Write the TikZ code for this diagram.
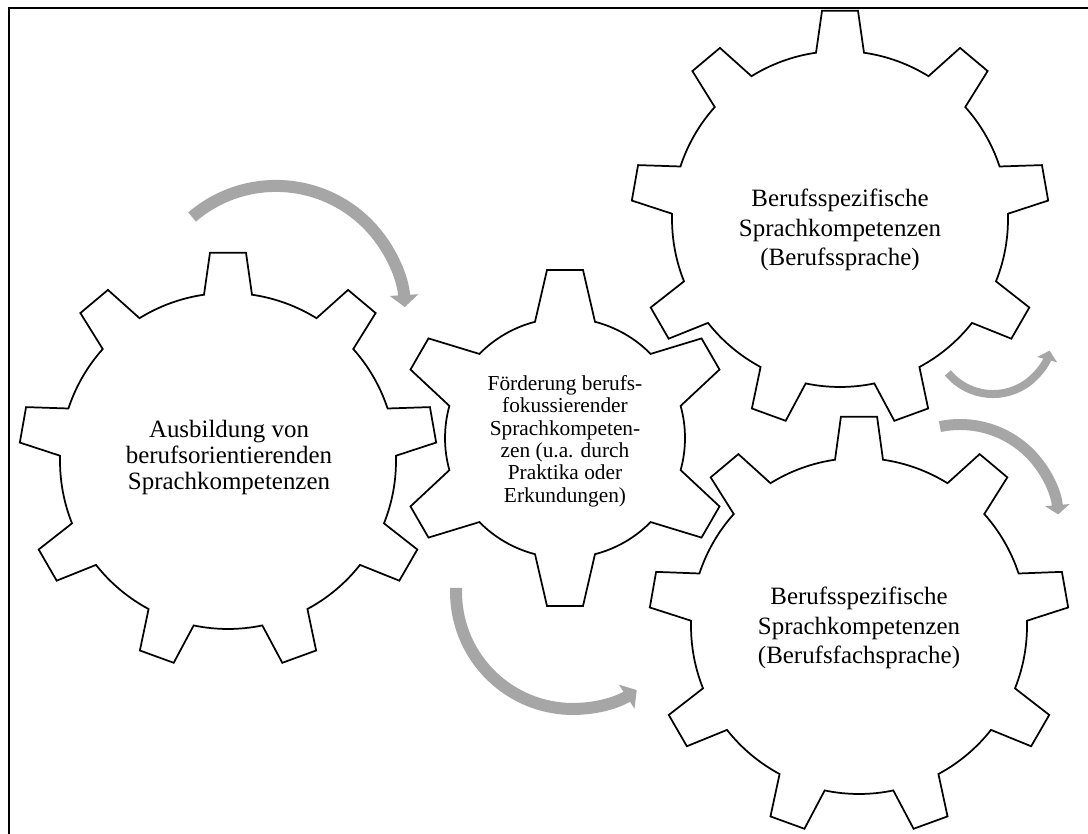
\documentclass[tikz,border=0pt]{standalone}
\usepackage{fontspec}
\setmainfont{Liberation Serif}
\usetikzlibrary{arrows.meta}
\definecolor{arrowgray}{HTML}{A6A6A6}
\tikzset{
  gearline/.style={draw=black, line width=1.3pt, fill=white, line join=miter},
  frameline/.style={draw=black, line width=1.3pt},
  textA/.style={align=center, inner sep=0pt, font=\fontsize{18.7}{19.5}\selectfont},
  textB/.style={align=center, inner sep=0pt, font=\fontsize{16}{16.8}\selectfont},
  textC/.style={align=center, inner sep=0pt, font=\fontsize{18.7}{22.3}\selectfont},
  bigarrow/.style={draw=arrowgray, line width=9pt, -{Triangle[width=21pt,length=9pt]}},
  midarrow/.style={draw=arrowgray, line width=8.25pt, -{Triangle[width=18pt,length=7pt]}},
  smallarrow/.style={draw=arrowgray, line width=6pt, -{Triangle[width=15pt,length=7pt]}},
}
% #1 cx, #2 cy, #3 teeth, #4 outer radius, #5 root radius, #6 outer half angle, #7 base half angle
\newcommand{\mygear}[7]{%
  \begin{scope}[shift={(#1,#2)}]
    \draw[gearline] ({90-#7}:#5)
      \foreach \k in {1,...,#3}{
        -- ({90+(\k-1)*360/#3-#6}:#4)
        -- ({90+(\k-1)*360/#3+#6}:#4)
        -- ({90+(\k-1)*360/#3+#7}:#5)
        arc[start angle={90+(\k-1)*360/#3+#7}, end angle={90+\k*360/#3-#7}, radius=#5]
      } -- cycle;
  \end{scope}}
\begin{document}
\begin{tikzpicture}[x=0.75pt, y=0.75pt]
\useasboundingbox (0,0) rectangle (1088,834);
\fill[white] (0,0) rectangle (1088,834);

% gears
\mygear{228}{373}{9}{209}{168}{4.94}{8.21}
\mygear{565}{396}{6}{169}{120}{6.11}{14.48}
\mygear{840}{615}{9}{209}{168}{4.94}{8.21}
\mygear{859}{208}{9}{210}{168}{4.94}{8.21}

% texts
\node[textA] (g1) at (229,376) {Ausbildung von\\berufsorientierenden\\Sprachkompetenzen};
\node[textB] (g2) at (565,393) {Förderung berufs-\\fokussierender\\Sprachkompeten-\\zen (u.a. durch\\Praktika oder\\Erkundungen)};
\node[textC] (g3) at (840,604) {Berufsspezifische\\Sprachkompetenzen\\(Berufssprache)};
\node[textC] (g4) at (859,206) {Berufsspezifische\\Sprachkompetenzen\\(Berufsfachsprache)};

% arrows
\coordinate (a1) at (192.1,617);
\coordinate (a2) at (456.1,246.1);
\coordinate (a3) at (947.9,461.1);
\coordinate (a4) at (939.9,407.4);
\draw[bigarrow] (a1) arc[start angle=130.6, end angle=3.5, radius=129];
\draw[bigarrow] (a2) arc[start angle=178, end angle=303, radius=117];
\draw[smallarrow] (a3) arc[start angle=219.7, end angle=345, radius=58.6];
\draw[midarrow] (a4) arc[start angle=101.8, end angle=5, radius=98.5];

% frame (top and left edges)
\draw[frameline] (9,0) -- (9,826) -- (1088,826);
\end{tikzpicture}
\end{document}
